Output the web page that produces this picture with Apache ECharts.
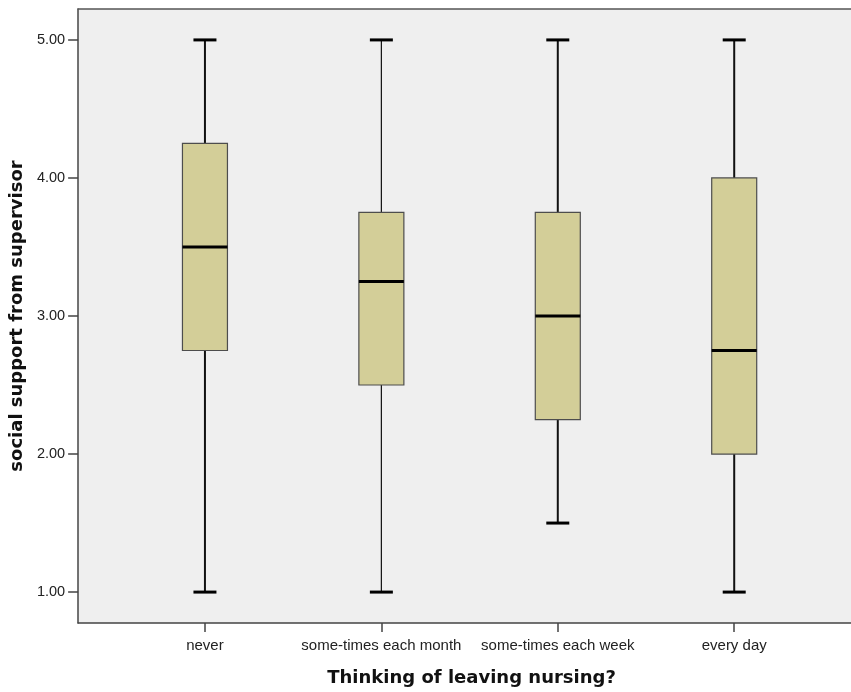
<!DOCTYPE html>
<html>
<head>
<meta charset="utf-8">
<script src="https://cdn.jsdelivr.net/npm/echarts@6/dist/echarts.min.js"></script>
<style>
  html, body { margin: 0; padding: 0; background: #ffffff; }
  #chart { width: 851px; height: 692px; }
</style>
</head>
<body>
<div id="chart"></div>
<script>
// Categories of the grouping variable
const categories = ['never', 'some-times each month', 'some-times each week', 'every day'];
// Five-number summaries per category
const whiskerLow  = [1.00, 1.00, 1.50, 1.00];
const quartile1   = [2.75, 2.50, 2.25, 2.00];
const medians     = [3.50, 3.25, 3.00, 2.75];
const quartile3   = [4.25, 3.75, 3.75, 4.00];
const whiskerHigh = [5.00, 5.00, 5.00, 5.00];
// Y-axis tick values
const yTicks = [1, 2, 3, 4, 5];

const boxData = categories.map((c, i) => [i, whiskerLow[i], quartile1[i], medians[i], quartile3[i], whiskerHigh[i]]);

const stemWidths = [2, 1.2, 2, 2];

const chart = echarts.init(document.getElementById('chart'));

function renderBox(params, api) {
  const i = api.value(0);
  const x = api.coord([i, 0])[0];
  const yLow = api.coord([i, api.value(1)])[1];
  const yQ1 = api.coord([i, api.value(2)])[1];
  const yMed = api.coord([i, api.value(3)])[1];
  const yQ3 = api.coord([i, api.value(4)])[1];
  const yHigh = api.coord([i, api.value(5)])[1];
  const halfBox = 22.5;
  const halfCap = 11.5;
  const sw = stemWidths[params.dataIndex];
  return {
    type: 'group',
    children: [
      { type: 'line', shape: { x1: x, y1: yHigh, x2: x, y2: yQ3 }, style: { stroke: '#111', lineWidth: sw } },
      { type: 'line', shape: { x1: x, y1: yQ1, x2: x, y2: yLow }, style: { stroke: '#111', lineWidth: sw } },
      { type: 'line', shape: { x1: x - halfCap, y1: yHigh, x2: x + halfCap, y2: yHigh }, style: { stroke: '#000', lineWidth: 3 } },
      { type: 'line', shape: { x1: x - halfCap, y1: yLow, x2: x + halfCap, y2: yLow }, style: { stroke: '#000', lineWidth: 3 } },
      { type: 'rect', shape: { x: x - halfBox, y: yQ3, width: halfBox * 2, height: yQ1 - yQ3 },
        style: { fill: '#d3ce98', stroke: '#4d4d4d', lineWidth: 1.2 } },
      { type: 'line', shape: { x1: x - halfBox, y1: yMed, x2: x + halfBox, y2: yMed }, style: { stroke: '#000', lineWidth: 3 } }
    ]
  };
}

const option = {
  animation: false,
  backgroundColor: '#ffffff',
  grid: {
    left: 77, top: 9, right: 0, bottom: 67,
    show: true, backgroundColor: '#efefef', borderWidth: 0
  },
  xAxis: [{
    type: 'value',
    min: -0.7189,
    max: 3.662,
    position: 'bottom',
    name: 'Thinking of leaving nursing?',
    nameLocation: 'middle',
    nameGap: 46,
    nameTextStyle: { fontFamily: 'DejaVu Sans', fontWeight: 'bold', fontSize: 18, color: '#111', padding: [0, 0, 0, 14] },
    axisLine: { show: true, onZero: false, lineStyle: { color: '#444', width: 1.5 } },
    axisTick: { show: true, customValues: [0, 1, 2, 3], length: 9, lineStyle: { color: '#444', width: 1.5 } },
    axisLabel: {
      customValues: [0, 1, 2, 3],
      formatter: v => categories[Math.round(v)],
      margin: 15,
      fontFamily: 'Liberation Sans', fontSize: 15, color: '#222'
    },
    splitLine: { show: false }
  }, {
    type: 'value',
    min: 0, max: 1,
    position: 'top',
    axisLine: { show: true, onZero: false, lineStyle: { color: '#555', width: 1.5 } },
    axisTick: { show: false },
    axisLabel: { show: false },
    splitLine: { show: false }
  }],
  yAxis: {
    type: 'value',
    min: 0.776,
    max: 5.224,
    name: 'social support from supervisor',
    nameLocation: 'middle',
    nameGap: 48,
    nameTextStyle: { fontFamily: 'DejaVu Sans', fontWeight: 'bold', fontSize: 18, color: '#111' },
    axisLine: { show: true, onZero: false, lineStyle: { color: '#444', width: 1.5 } },
    axisTick: { show: true, customValues: yTicks, length: 10, lineStyle: { color: '#444', width: 1.5 } },
    axisLabel: {
      customValues: yTicks,
      formatter: v => v.toFixed(2),
      margin: 13,
      fontFamily: 'Liberation Sans', fontSize: 14.5, color: '#222'
    },
    splitLine: { show: false }
  },
  series: [{
    type: 'custom',
    xAxisIndex: 0,
    renderItem: renderBox,
    encode: { x: 0, y: [1, 2, 3, 4, 5] },
    data: boxData,
    clip: false
  }]
};

chart.setOption(option);
</script>
</body>
</html>
